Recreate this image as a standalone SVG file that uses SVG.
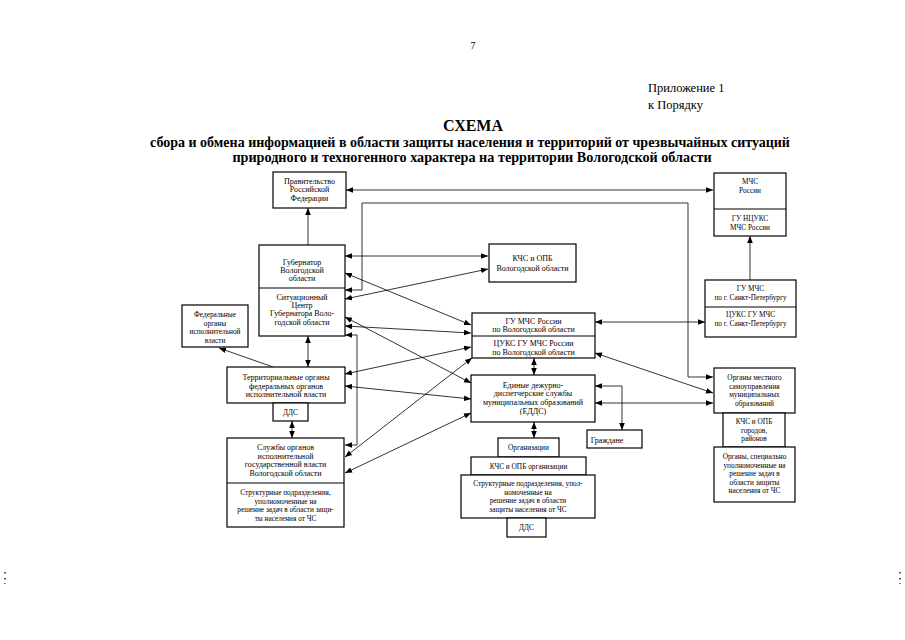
<svg xmlns="http://www.w3.org/2000/svg" width="905" height="640" viewBox="0 0 905 640">
<defs>
<marker id="a" viewBox="0 0 10 10" refX="10" refY="5" markerWidth="7" markerHeight="7" markerUnits="userSpaceOnUse" orient="auto-start-reverse"><path d="M0,1 L10,5 L0,9 z" fill="#000"/></marker>
<style>
.b{fill:#fff;stroke:#000;stroke-width:1.2}
.d{stroke:#000;stroke-width:1.2}
.t{font-family:"Liberation Serif","Times New Roman",serif;font-size:8px;fill:#000;text-anchor:middle}
.s{font-size:7.3px}
.h{font-family:"Liberation Serif","Times New Roman",serif;fill:#000}
.c path{fill:none;stroke:#000;stroke-width:0.8}
.c .bi{marker-start:url(#a);marker-end:url(#a)}
.c .un{marker-end:url(#a)}
</style>
</defs>
<rect width="905" height="640" fill="#fff"/>
<g id="header">
<text class="h" x="473" y="49" font-size="10" text-anchor="middle">7</text>
<text class="h" x="648" y="92" font-size="12.5">Приложение 1</text>
<text class="h" x="648" y="109" font-size="12.5">к Порядку</text>
<text class="h" x="473" y="131" font-size="16" font-weight="bold" text-anchor="middle">СХЕМА</text>
<text class="h" x="470" y="147" font-size="14" font-weight="bold" text-anchor="middle">сбора и обмена информацией в области защиты населения и территорий от чрезвычайных ситуаций</text>
<text class="h" x="472" y="162" font-size="14.2" font-weight="bold" text-anchor="middle">природного и техногенного характера на территории Вологодской области</text>
</g>
<g id="connectors" class="c">
<path class="bi" d="M346,190 H713"/>
<path class="un" d="M308,245 V208"/>
<path class="bi" d="M345,256 H488"/>
<path class="bi" d="M345,299 L488,269"/>
<path class="bi" d="M345,273 L471,325"/>
<path class="bi" d="M345,290 H362 V203 H688 V377 H713"/>
<path class="bi" d="M345,317 L471,383"/>
<path class="bi" d="M345,326 L471,333"/>
<path class="bi" d="M345,335 H357 V445 H345"/>
<path class="bi" d="M308,336 V367"/>
<path class="un" d="M273,367 L219,348"/>
<path class="bi" d="M345,374 L471,347"/>
<path class="bi" d="M345,386 L471,399"/>
<path class="bi" d="M292,421 V438"/>
<path class="bi" d="M345,457 L472,358"/>
<path class="bi" d="M345,473 L471,413"/>
<path class="bi" d="M534,358 V375"/>
<path class="bi" d="M534,422 V438"/>
<path class="bi" d="M595,386 H622 V430"/>
<path class="bi" d="M595,403 H713"/>
<path class="bi" d="M595,353 L713,393"/>
<path class="bi" d="M595,322 H705"/>
<path class="un" d="M750,280 V236"/>
</g>
<g id="n-pravitelstvo">
<rect class="b" x="273" y="172" width="73" height="36"/>
<text class="t" x="309.5" y="184">Правительство</text>
<text class="t" x="309.5" y="192">Российской</text>
<text class="t" x="309.5" y="201">Федерации</text>
</g>
<g id="n-gubernator">
<rect class="b" x="259" y="245" width="86" height="91"/>
<line class="d" x1="259" y1="288" x2="345" y2="288"/>
<text class="t" x="302" y="265">Губернатор</text>
<text class="t" x="302" y="273">Вологодской</text>
<text class="t" x="302" y="281">области</text>
<text class="t" x="302" y="300">Ситуационный</text>
<text class="t" x="302" y="308">Центр</text>
<text class="t" x="302" y="316">Губернатора  Воло-</text>
<text class="t" x="302" y="325">годской области</text>
</g>
<g id="n-kchs-obl">
<rect class="b" x="489" y="244" width="87" height="38"/>
<text class="t" x="532.5" y="261">КЧС и ОПБ</text>
<text class="t" x="532.5" y="271">Вологодской области</text>
</g>
<g id="n-gumchs-vol">
<rect class="b" x="472" y="313" width="123" height="45"/>
<line class="d" x1="472" y1="336" x2="595" y2="336"/>
<text class="t" x="533.5" y="324">ГУ МЧС России</text>
<text class="t" x="533.5" y="332">по Вологодской области</text>
<text class="t" x="533.5" y="346">ЦУКС ГУ МЧС России</text>
<text class="t" x="533.5" y="355">по Вологодской области</text>
</g>
<g id="n-edds">
<rect class="b" x="471" y="375" width="124" height="47"/>
<text class="t" x="533" y="388">Единые дежурно-</text>
<text class="t" x="533" y="396">диспетчерские службы</text>
<text class="t" x="533" y="405">муниципальных образований</text>
<text class="t" x="533" y="414">(ЕДДС)</text>
</g>
<g id="n-grazhdane">
<rect class="b" x="587" y="430" width="55" height="18"/>
<text class="t" x="607" y="443">Граждане</text>
</g>
<g id="n-mchs">
<rect class="b" x="714" y="173" width="72" height="63"/>
<line class="d" x1="714" y1="209" x2="786" y2="209"/>
<text class="t s" x="750" y="184">МЧС</text>
<text class="t s" x="750" y="192.5">России</text>
<text class="t s" x="750" y="221">ГУ НЦУКС</text>
<text class="t s" x="750" y="229.5">МЧС России</text>
</g>
<g id="n-spb">
<rect class="b" x="705" y="280" width="91" height="57"/>
<line class="d" x1="705" y1="307" x2="796" y2="307"/>
<text class="t s" x="750.5" y="291">ГУ МЧС</text>
<text class="t s" x="750.5" y="299.5">по г. Санкт-Петербургу</text>
<text class="t s" x="750.5" y="317">ЦУКС ГУ МЧС</text>
<text class="t s" x="750.5" y="325.5">по г. Санкт-Петербургу</text>
</g>
<g id="n-oms">
<rect class="b" x="714" y="368" width="81" height="45"/>
<text class="t s" x="754.5" y="380">Органы местного</text>
<text class="t s" x="754.5" y="388.5">самоуправления</text>
<text class="t s" x="754.5" y="397">муниципальных</text>
<text class="t s" x="754.5" y="405.5">образований</text>
</g>
<g id="n-kchs-gor">
<rect class="b" x="723" y="413" width="62" height="34"/>
<text class="t s" x="754" y="424">КЧС и ОПБ</text>
<text class="t s" x="754" y="432.5">городов,</text>
<text class="t s" x="754" y="441">районов</text>
</g>
<g id="n-organy-spec">
<rect class="b" x="714" y="447" width="81" height="55"/>
<text class="t s" x="754.5" y="459">Органы, специально</text>
<text class="t s" x="754.5" y="467.5">уполномоченные на</text>
<text class="t s" x="754.5" y="476">решение задач в</text>
<text class="t s" x="754.5" y="484.5">области защиты</text>
<text class="t s" x="754.5" y="493">населения от ЧС</text>
</g>
<g id="n-federal">
<rect class="b" x="182" y="305" width="66" height="42"/>
<text class="t s" x="215" y="317">Федеральные</text>
<text class="t s" x="215" y="325.5">органы</text>
<text class="t s" x="215" y="334">исполнительной</text>
<text class="t s" x="215" y="342.5">власти</text>
</g>
<g id="n-territ">
<rect class="b" x="227" y="367" width="118" height="36"/>
<text class="t" x="286" y="380">Территориальные органы</text>
<text class="t" x="286" y="388.5">федеральных органов</text>
<text class="t" x="286" y="397">исполнительной власти</text>
</g>
<g id="n-dds1">
<rect class="b" x="273" y="403" width="35" height="18"/>
<text class="t s" x="290.5" y="415">ДДС</text>
</g>
<g id="n-sluzhby">
<rect class="b" x="227" y="438" width="117" height="89"/>
<line class="d" x1="227" y1="483" x2="344" y2="483"/>
<text class="t" x="285.5" y="450">Службы органов</text>
<text class="t" x="285.5" y="458.5">исполнительной</text>
<text class="t" x="285.5" y="467">государственной власти</text>
<text class="t" x="285.5" y="475.5">Вологодской области</text>
<text class="t s" x="285.5" y="495">Структурные подразделения,</text>
<text class="t s" x="285.5" y="503.5">уполномоченные на</text>
<text class="t s" x="285.5" y="512">решение задач в области защи-</text>
<text class="t s" x="285.5" y="520.5">ты населения от ЧС</text>
</g>
<g id="n-organizacii">
<rect class="b" x="498" y="438" width="61" height="19"/>
<text class="t s" x="528.5" y="450">Организации</text>
</g>
<g id="n-kchs-org">
<rect class="b" x="471" y="457" width="115" height="18"/>
<text class="t s" x="528.5" y="469">КЧС и ОПБ организации</text>
</g>
<g id="n-struct">
<rect class="b" x="461" y="475" width="134" height="43"/>
<text class="t s" x="528" y="486">Структурные подразделения, упол-</text>
<text class="t s" x="528" y="494.5">номоченные на</text>
<text class="t s" x="528" y="503">решение задач в области</text>
<text class="t s" x="528" y="511.5">защиты населения от ЧС</text>
</g>
<g id="n-dds2">
<rect class="b" x="507" y="518" width="39" height="19"/>
<text class="t s" x="526.5" y="530">ДДС</text>
</g>
<g id="marks" fill="#555">
<rect x="4" y="572" width="2" height="1.5"/>
<rect x="4" y="578" width="2" height="1.5"/>
<rect x="4" y="583" width="1.5" height="1"/>
<rect x="899" y="572" width="2" height="1.5"/>
<rect x="899" y="578" width="2" height="1.5"/>
<rect x="899" y="583" width="1.5" height="1"/>
</g>
</svg>
